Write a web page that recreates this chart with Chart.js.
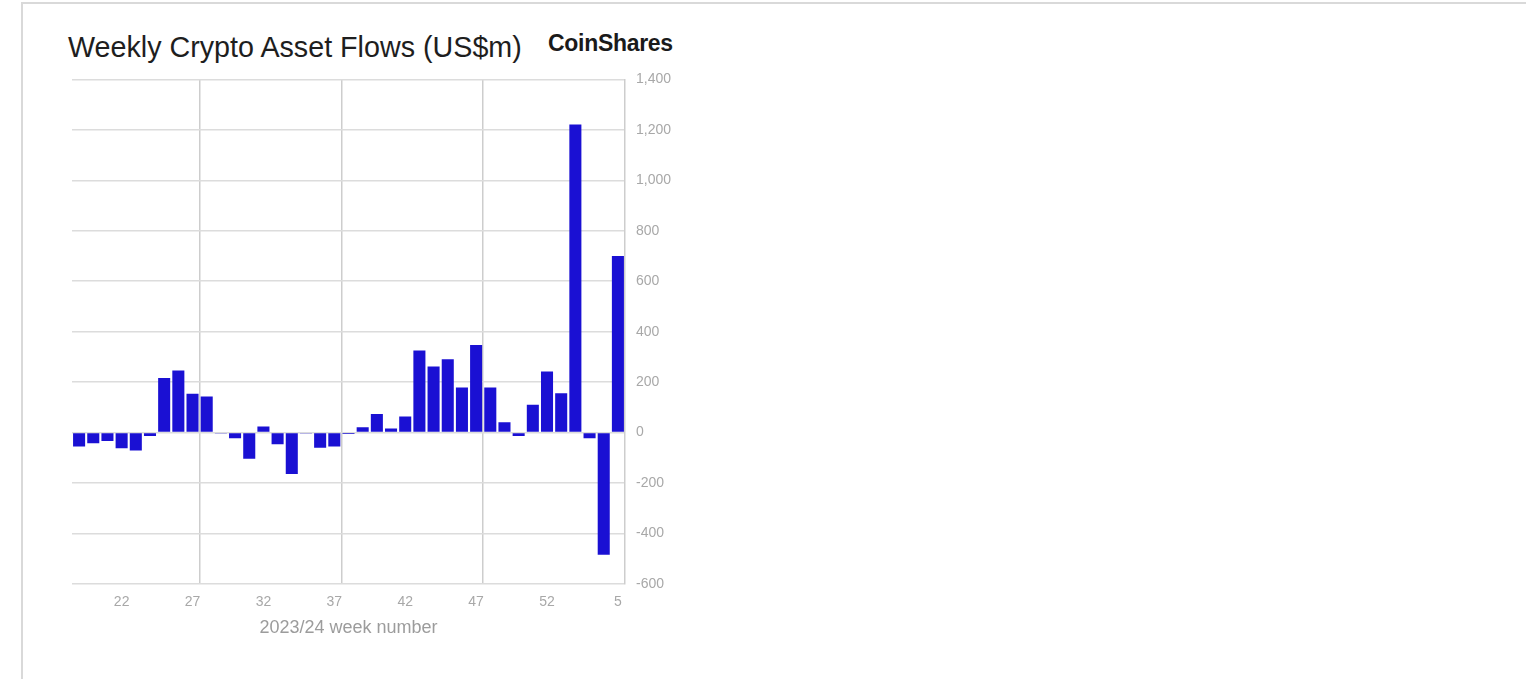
<!DOCTYPE html>
<html>
<head>
<meta charset="utf-8">
<script src="https://cdn.jsdelivr.net/npm/chart.js@4.4.1/dist/chart.umd.min.js"></script>
<style>
  html, body { margin: 0; padding: 0; background: #fff; }
  body { width: 1526px; height: 679px; position: relative; overflow: hidden; font-family: "Liberation Sans", Arial, sans-serif; }
  #frame { position: absolute; left: 21px; top: 2px; width: 1510px; height: 690px; border-top: 2px solid #d9d9d9; border-left: 2px solid #d9d9d9; }
  #title { position: absolute; left: 68px; top: 33px; font-size: 28.7px; line-height: 28px; color: #1e1e1e; letter-spacing: 0px; white-space: nowrap; }
  #logo { position: absolute; left: 548px; top: 32px; font-size: 23px; line-height: 23px; font-weight: bold; color: #1a1a1a; letter-spacing: -0.3px; white-space: nowrap; }
  #wrap { position: absolute; left: 60px; top: 60px; width: 640px; height: 610px; }
</style>
</head>
<body>
<div id="frame"></div>
<div id="title">Weekly Crypto Asset Flows (US$m)</div>
<div id="logo">CoinShares</div>
<div id="wrap"><canvas id="c"></canvas></div>
<script>
const weeks = ["19","20","21","22","23","24","25","26","27","28","29","30","31","32","33","34","35","36","37","38","39","40","41","42","43","44","45","46","47","48","49","50","51","52","1","2","3","4","5"];
const flows = [-55,-42,-33,-62,-71,-13,216,246,154,143,-3,-22,-104,24,-46,-164,-3,-60,-55,-5,21,74,16,64,325,262,291,179,347,179,41,-13,110,242,156,1221,-22,-484,700];
const shownWeekLabels = ["22","27","32","37","42","47","52","5"];
const verticalGridWeeks = ["28","38","48"];
const yMin = -600, yMax = 1400, yStep = 200;
const xAxisTitle = "2023/24 week number";

const gridIdx = verticalGridWeeks.map(w => weeks.indexOf(w));

new Chart(document.getElementById('c'), {
  type: 'bar',
  data: {
    labels: weeks,
    datasets: [{
      data: flows,
      backgroundColor: '#1a10d3',
      borderWidth: 0,
      barPercentage: 0.85,
      categoryPercentage: 1.0
    }]
  },
  options: {
    responsive: true,
    maintainAspectRatio: false,
    animation: false,
    layout: { padding: { left: 12, top: 18, right: 0, bottom: 27 } },
    plugins: { legend: { display: false }, tooltip: { enabled: false }, title: { display: false } },
    scales: {
      x: {
        afterFit: (s) => { s.height = 59; },
        grid: {
          offset: true,
          drawTicks: false,
          lineWidth: 1.5,
          color: (ctx) => gridIdx.includes(ctx.index) ? '#cdcdcd' : 'rgba(0,0,0,0)'
        },
        border: { display: false },
        ticks: {
          autoSkip: false,
          maxRotation: 0,
          padding: 10,
          color: '#a8a8a8',
          font: { family: '"Liberation Sans", Arial, sans-serif', size: 14 },
          callback: function(v, i) { const l = weeks[i]; return shownWeekLabels.includes(l) ? l : ''; }
        },
        title: {
          display: true,
          text: xAxisTitle,
          color: '#9c9c9c',
          font: { family: '"Liberation Sans", Arial, sans-serif', size: 18 },
          padding: { top: 5, bottom: 4 }
        }
      },
      y: {
        position: 'right',
        min: yMin,
        max: yMax,
        afterFit: (s) => { s.width = 75; },
        grid: { color: '#dcdcdc', lineWidth: 1.5, drawTicks: false },
        border: { display: true, color: '#cdcdcd', width: 1.5 },
        ticks: {
          stepSize: yStep,
          padding: 11,
          color: '#a8a8a8',
          font: { family: '"Liberation Sans", Arial, sans-serif', size: 14 },
          callback: (v) => v.toLocaleString('en-US')
        }
      }
    }
  }
});
</script>
</body>
</html>
